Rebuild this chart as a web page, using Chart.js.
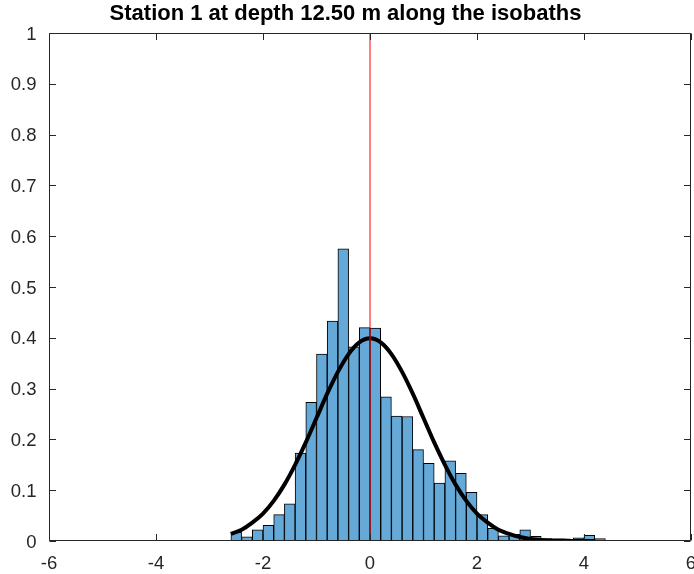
<!DOCTYPE html>
<html>
<head>
<meta charset="utf-8">
<script src="https://cdn.jsdelivr.net/npm/chart.js@4/dist/chart.umd.min.js"></script>
<style>
	body { margin: 0; background: #fff; }
	canvas { display: block; }
</style>
</head>
<body>
<canvas id="HistChart" width="694" height="574"></canvas>
<script>
// histogram bins (width 0.2), normalised heights
var BinCenters = [-2.5, -2.3, -2.1, -1.9, -1.7, -1.5, -1.3, -1.1, -0.9, -0.7, -0.5, -0.3, -0.1,
	0.1, 0.3, 0.5, 0.7, 0.9, 1.1, 1.3, 1.5, 1.7, 1.9, 2.1, 2.3, 2.5, 2.7, 2.9, 3.1, 3.3, 3.5, 3.7, 3.9, 4.1, 4.3];
var BinHeights = [0.017, 0.008, 0.022, 0.031, 0.052, 0.073, 0.173, 0.273, 0.368, 0.433, 0.575, 0.382, 0.420,
	0.419, 0.284, 0.246, 0.245, 0.180, 0.153, 0.114, 0.158, 0.133, 0.096, 0.052, 0.025, 0.010, 0.013, 0.022, 0.009, 0.005, 0.004, 0.004, 0.006, 0.011, 0.005];

// fitted normal curve
var CurveX = [-2.6, -2.4, -2.2, -2.0, -1.8, -1.6, -1.4, -1.2, -1.0, -0.8, -0.6, -0.4, -0.2, 0,
	0.2, 0.4, 0.6, 0.8, 1.0, 1.2, 1.4, 1.6, 1.8, 2.0, 2.2, 2.4, 2.6, 2.8, 3.0, 3.2, 3.4, 3.6, 3.8, 4.0, 4.2];
var CurveY = [0.014, 0.022, 0.036, 0.054, 0.079, 0.111, 0.150, 0.194, 0.242, 0.290, 0.333, 0.368, 0.391, 0.399,
	0.391, 0.368, 0.333, 0.290, 0.242, 0.194, 0.150, 0.111, 0.079, 0.054, 0.036, 0.022, 0.014, 0.008, 0.004, 0.002, 0.001, 0.001, 0.000, 0.000, 0.000];

// zero line
var ZeroLineX = [0, 0];
var ZeroLineY = [0, 1];

var XTicks = [-6, -4, -2, 0, 2, 4, 6];
var YTicks = [0, 0.1, 0.2, 0.3, 0.4, 0.5, 0.6, 0.7, 0.8, 0.9, 1];

var AxisColor = '#262626';

function toPoints(xs, ys){
	var pts = [];
	for(let i=0; i<xs.length; i++) pts.push({x: xs[i], y: ys[i]});
	return pts;
}

// box around the axes plus inward tick marks
var AxesBox = {
	id: 'axesBox',
	afterDraw(chart){
		var ctx = chart.ctx;
		var a = chart.chartArea;
		var xs = chart.scales.x, ys = chart.scales.y;
		var L = Math.round(a.left) + 0.5, R = Math.round(a.right) - 0.5;
		var T = Math.round(a.top) + 0.5, B = Math.round(a.bottom) - 0.5;
		var tl = 6.5;
		ctx.save();
		ctx.strokeStyle = AxisColor;
		ctx.lineWidth = 1;
		ctx.beginPath();
		ctx.rect(L, T, R - L, B - T);
		for(let i=0; i<XTicks.length; i++){
			var px = Math.round(xs.getPixelForValue(XTicks[i])) + 0.5;
			ctx.moveTo(px, B); ctx.lineTo(px, B - tl);
			ctx.moveTo(px, T); ctx.lineTo(px, T + tl);
		}
		for(let i=0; i<YTicks.length; i++){
			var py = Math.round(ys.getPixelForValue(YTicks[i])) + 0.5;
			ctx.moveTo(L, py); ctx.lineTo(L + tl, py);
			ctx.moveTo(R, py); ctx.lineTo(R - tl, py);
		}
		ctx.stroke();
		ctx.restore();
	}
};

Chart.defaults.font.family = "'Liberation Sans', Arial, sans-serif";
Chart.defaults.color = AxisColor;

new Chart(document.getElementById('HistChart'), {
	type: 'bar',
	data: {
		datasets: [{
			type: 'line',
			data: toPoints(ZeroLineX, ZeroLineY),
			borderColor: '#ff0000',
			borderWidth: 1,
			pointRadius: 0,
			order: 1
		},{
			type: 'line',
			data: toPoints(CurveX, CurveY),
			borderColor: '#000000',
			borderWidth: 4,
			pointRadius: 0,
			cubicInterpolationMode: 'monotone',
			order: 2
		},{
			type: 'bar',
			data: toPoints(BinCenters, BinHeights),
			backgroundColor: 'rgb(100, 169, 215)',
			borderColor: '#000000',
			borderWidth: 1,
			borderSkipped: false,
			barPercentage: 1,
			categoryPercentage: 1,
			order: 3
		}]
	},
	options: {
		responsive: false,
		animation: false,
		layout: { padding: { top: 0, right: 3, bottom: 0, left: 0 } },
		plugins: {
			legend: { display: false },
			tooltip: { enabled: false },
			title: {
				display: true,
				text: 'Station 1 at depth 12.50 m along the isobaths',
				color: '#000000',
				font: { size: 22, weight: 'bold' },
				padding: { top: 1, bottom: 5.6 }
			}
		},
		scales: {
			x: {
				type: 'linear',
				min: -6,
				max: 6,
				offset: false,
				grid: { display: false, drawTicks: false },
				border: { display: false },
				afterBuildTicks: function(s){ s.ticks = XTicks.map(v => ({value: v})); },
				ticks: { padding: 12, font: { size: 18.5 }, maxRotation: 0, autoSkip: false,
					callback: function(v){ return String(v); } },
				afterFit: function(s){ s.height = 33; s.paddingLeft = 0; s.paddingRight = 0; }
			},
			y: {
				min: 0,
				max: 1,
				grid: { display: false, drawTicks: false },
				border: { display: false },
				afterBuildTicks: function(s){ s.ticks = YTicks.map(v => ({value: v})); },
				ticks: { padding: 12.5, labelOffset: 1.5, font: { size: 18.5 },
					callback: function(v){ return String(v); } },
				afterFit: function(s){ s.width = 49; }
			}
		}
	},
	plugins: [AxesBox]
});
</script>
</body>
</html>
